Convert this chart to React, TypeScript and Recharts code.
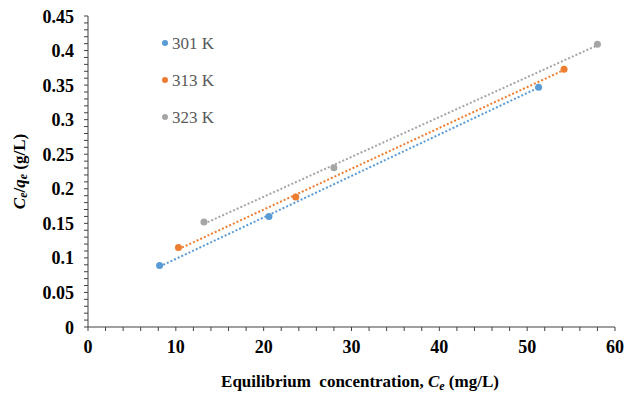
import React from 'react';
import { ScatterChart, Scatter, XAxis, YAxis, Label } from 'recharts';

const xMajorTicks = [0, 10, 20, 30, 40, 50, 60];
const yMajorTicks = [0, 0.05, 0.1, 0.15, 0.2, 0.25, 0.3, 0.35, 0.4, 0.45];

const ce301 = [8.15, 20.6, 51.3];
const ratio301 = [0.089, 0.16, 0.347];
const ce313 = [10.3, 23.65, 54.2];
const ratio313 = [0.115, 0.188, 0.373];
const ce323 = [13.2, 28.0, 58.0];
const ratio323 = [0.152, 0.2305, 0.409];

const seriesNames = ['301 K', '313 K', '323 K'];
const seriesColors = ['#5B9BD5', '#ED7D31', '#A5A5A5'];

const FONT = 'Liberation Serif';

type Pt = { x: number; y: number };

const toPoints = (xs: number[], ys: number[]): Pt[] => xs.map((x, i) => ({ x, y: ys[i] }));

// least-squares trendline over the data range (like Excel's linear trendline)
const trendline = (pts: Pt[]): Pt[] => {
  const n = pts.length;
  const mx = pts.reduce((s, p) => s + p.x, 0) / n;
  const my = pts.reduce((s, p) => s + p.y, 0) / n;
  let num = 0;
  let den = 0;
  pts.forEach(p => {
    num += (p.x - mx) * (p.y - my);
    den += (p.x - mx) ** 2;
  });
  const slope = num / den;
  const xs = pts.map(p => p.x);
  const x0 = Math.min(...xs);
  const x1 = Math.max(...xs);
  return [
    { x: x0, y: my + slope * (x0 - mx) },
    { x: x1, y: my + slope * (x1 - mx) },
  ];
};

const series = [
  toPoints(ce301, ratio301),
  toPoints(ce313, ratio313),
  toPoints(ce323, ratio323),
];

const xMinorTicks = Array.from({ length: 31 }, (_, i) => i * 2);
const yMinorTicks = Array.from({ length: 46 }, (_, i) => i / 100);

const isMajor = (v: number, majors: number[]) => majors.some(m => Math.abs(m - v) < 1e-6);

const XTick = ({ x, y, payload }: any) =>
  isMajor(payload.value, xMajorTicks) ? (
    <text x={x} y={y + 20} textAnchor="middle" fill="#000"
      style={{ fontFamily: FONT, fontWeight: 'bold', fontSize: 18 }}>
      {payload.value}
    </text>
  ) : null;

const YTick = ({ x, y, payload }: any) =>
  isMajor(payload.value, yMajorTicks) ? (
    <text x={x - 8} y={y + 6.5} textAnchor="end" fill="#000"
      style={{ fontFamily: FONT, fontWeight: 'bold', fontSize: 18 }}>
      {String(payload.value)}
    </text>
  ) : null;

const YTitle = ({ viewBox }: any) => {
  const cx = 19;
  const cy = (viewBox?.y ?? 16) + (viewBox?.height ?? 310) / 2;
  return (
    <text
      x={cx}
      y={cy}
      transform={`rotate(-90, ${cx}, ${cy})`}
      textAnchor="middle"
      dominantBaseline="central"
      style={{ fontFamily: FONT, fontWeight: 'bold', fontSize: 17 }}
      fill="#000"
    >
      <tspan fontStyle="italic">C</tspan>
      <tspan fontStyle="italic" fontSize={12} dy={4}>e</tspan>
      <tspan dy={-4}>/</tspan>
      <tspan fontStyle="italic">q</tspan>
      <tspan fontStyle="italic" fontSize={12} dy={4}>e</tspan>
      <tspan dy={-4}> (g/L)</tspan>
    </text>
  );
};

const XTitle = () => (
  <text
    x={360}
    y={387}
    textAnchor="middle"
    fill="#000"
    style={{ fontFamily: FONT, fontWeight: 'bold', fontSize: 17, whiteSpace: 'pre' }}
  >
    <tspan>Equilibrium  concentration, </tspan>
    <tspan fontStyle="italic">C</tspan>
    <tspan fontStyle="italic" fontSize={12} dy={3}>e</tspan>
    <tspan dy={-3}> (mg/L)</tspan>
  </text>
);

const LegendBox = () => (
  <g>
    {seriesNames.map((name, i) => (
      <g key={name}>
        <circle cx={165} cy={43 + i * 37} r={3} fill={seriesColors[i]} />
        <text
          x={172}
          y={43 + i * 37}
          dominantBaseline="central"
          style={{ fontFamily: FONT, fontSize: 17 }}
          fill="#595959"
        >
          {name}
        </text>
      </g>
    ))}
  </g>
);

const App = () => (
  <div style={{ position: 'absolute', left: 0, top: 0, width: 625, height: 394, background: '#fff' }}>
    <ScatterChart width={625} height={394} margin={{ top: 16, right: 10, bottom: 0, left: 0 }}>
      <XAxis
        type="number"
        dataKey="x"
        domain={[0, 60]}
        ticks={xMinorTicks}
        interval={0}
        height={67}
        tickSize={4}
        tickMargin={2}
        axisLine={{ stroke: '#404040', strokeWidth: 1 }}
        tickLine={{ stroke: '#404040' }}
        tick={<XTick />}
      />
      <YAxis
        type="number"
        dataKey="y"
        domain={[0, 0.45]}
        ticks={yMinorTicks}
        interval={0}
        width={88}
        tickSize={4}
        tickMargin={2}
        axisLine={{ stroke: '#404040', strokeWidth: 1 }}
        tickLine={{ stroke: '#404040' }}
        tick={<YTick />}
      >
        <Label content={<YTitle />} />
      </YAxis>
      {series.map((pts, i) => (
        <Scatter
          key={`trend-${i}`}
          data={trendline(pts)}
          line={{ stroke: seriesColors[i], strokeWidth: 2, strokeDasharray: '2 2' }}
          shape={() => <g />}
          isAnimationActive={false}
        />
      ))}
      {series.map((pts, i) => (
        <Scatter
          key={`pts-${i}`}
          name={seriesNames[i]}
          data={pts}
          fill={seriesColors[i]}
          shape={(p: any) => <circle cx={p.cx} cy={p.cy} r={3.5} fill={seriesColors[i]} />}
          isAnimationActive={false}
        />
      ))}
      <XTitle />
      <LegendBox />
    </ScatterChart>
  </div>
);

export default App;
